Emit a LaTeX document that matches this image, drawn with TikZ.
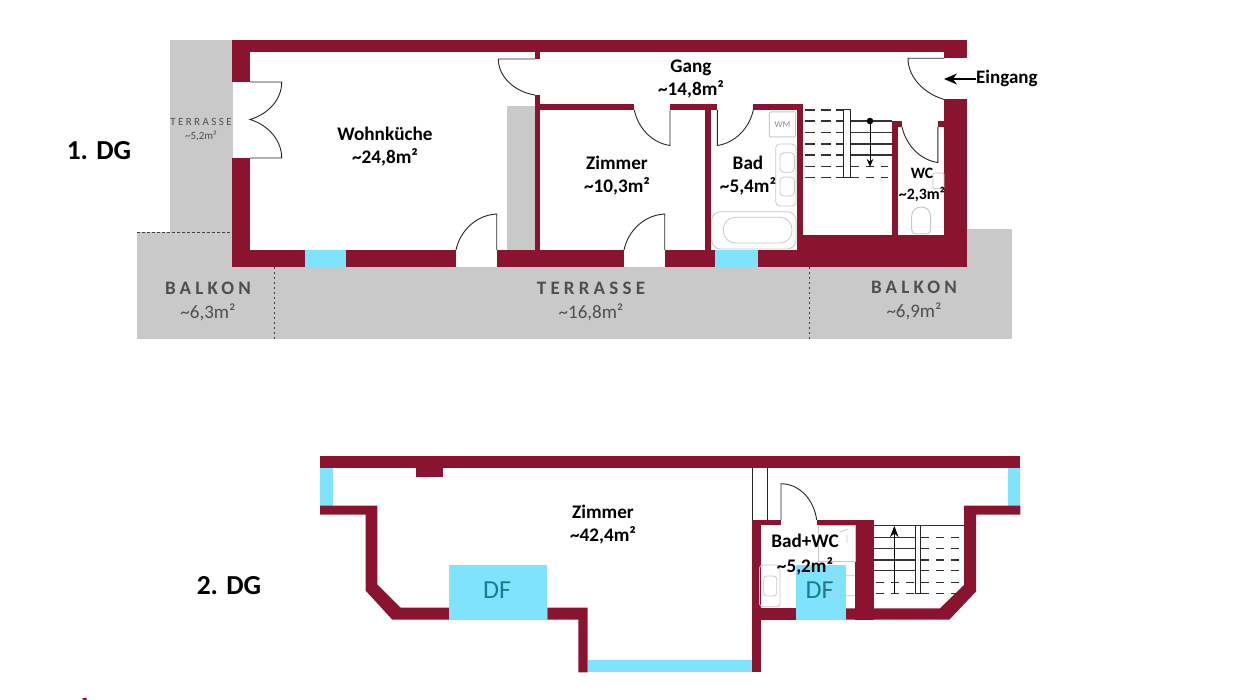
\documentclass[tikz,border=0pt]{standalone}
\usepackage{fontspec}
\usetikzlibrary{arrows.meta}
\setmainfont{Carlito}
\newfontfamily\sperrfont[LetterSpace=22]{Carlito}
\definecolor{wandrot}{HTML}{8A142F}
\definecolor{fenster}{HTML}{80E3FD}
\definecolor{terr}{HTML}{C9C9C9}
\definecolor{dftext}{HTML}{14808F}
\definecolor{terrtext}{HTML}{4F4F4F}
\newcommand{\qm}[1]{\textasciitilde#1m²}
\tikzset{
  wand/.style={fill=wandrot,draw=none},
  glas/.style={fill=fenster,draw=none},
  boden/.style={fill=terr,draw=none},
  tuer/.style={line width=0.9pt,draw=black!85},
  moebel/.style={line width=0.8pt,draw=black!22,rounded corners=4pt},
  raum/.style={font=\bfseries\fontsize{19.2}{23}\selectfont,align=center,inner sep=0pt},
  aussen/.style={font=\fontsize{19}{24}\selectfont,align=center,inner sep=0pt,text=terrtext},
  ebene/.style={font=\bfseries\fontsize{27.5}{30}\selectfont,inner sep=0pt},
  dflabel/.style={font=\fontsize{26}{28}\selectfont,inner sep=0pt,text=dftext},
  grenze/.style={line width=0.9pt,dash pattern=on 2.5pt off 2.5pt,draw=black!75},
  stufe/.style={line width=1.2pt,draw=black!80},
  halb/.style={line width=1.2pt,draw=black!80,dash pattern=on 10pt off 5.5pt},
  halbb/.style={line width=1.2pt,draw=black!80,dash pattern=on 7.5pt off 7.5pt}
}
\begin{document}
\begin{tikzpicture}[>=stealth,x=1pt,y=-1pt]
\useasboundingbox (0,0) rectangle (1236,700);
% 1. DG
\fill[boden] (170,40) rectangle (233,232);
\fill[boden] (137,232) rectangle (233,267);
\fill[boden] (137,267) rectangle (1011.5,339);
\fill[boden] (960,229) rectangle (1011.5,267);
\fill[boden] (507.3,106) rectangle (535,250);
\draw[grenze] (137,232)--(232,232);
\draw[grenze] (274,267)--(274,339);
\draw[grenze] (809.5,267)--(809.5,339);
\fill[wand] (232.3,40) rectangle (967,52);
\fill[wand] (232.3,40) rectangle (250,82);
\fill[wand] (232.3,158) rectangle (250,267);
\fill[wand] (232.3,250) rectangle (305,267);
\fill[wand] (346,250) rectangle (456,267);
\fill[wand] (497,250) rectangle (624,267);
\fill[wand] (665,250) rectangle (715.3,267);
\fill[wand] (758,250) rectangle (967,267);
\fill[wand] (803,235) rectangle (967,250);
\fill[glas] (305,250) rectangle (346,267);
\fill[glas] (715.3,250) rectangle (758,267);
\fill[wand] (534.5,52) rectangle (540,59);
\fill[wand] (534.5,95) rectangle (540,250);
\fill[wand] (540,104) rectangle (634.3,110);
\fill[wand] (670,104) rectangle (717.3,110);
\fill[wand] (753.3,104) rectangle (802.7,110);
\fill[wand] (705,110) rectangle (710.7,250);
\fill[wand] (797,104) rectangle (802.7,250);
\fill[wand] (944.3,40) rectangle (967,58.3);
\fill[wand] (944.3,99.5) rectangle (967,267);
\fill[wand] (892.3,121) rectangle (897.7,235);
\fill[wand] (892.3,121) rectangle (902,127);
\fill[wand] (937.7,121) rectangle (944.3,127);
% Tueren
\draw[tuer] (250,82)--(281.7,82) .. controls (281.7,100) and (268,114) .. (250,119.5) .. controls (268,125) and (281.7,140) .. (281.7,158)--(250,158);
\draw[tuer] (535,59)--(498.3,59) .. controls (498.3,77) and (515,92) .. (535,95);
\draw[tuer] (456,250) .. controls (460,231) and (476,215) .. (496.7,214)--(496.7,250);
\draw[tuer] (624,250) .. controls (628,231) and (644,215) .. (664.7,214)--(664.7,250);
\draw[tuer] (634.3,110) .. controls (638,128) and (652,143) .. (670,145.5)--(670,110);
\draw[tuer] (753.3,110) .. controls (749.5,128) and (735,143) .. (717.3,145.5)--(717.3,110);
\draw[tuer] (944.3,58.3)--(908,58.3) .. controls (908,78) and (925,94) .. (944.3,99.5);
\draw[tuer] (902,127) .. controls (906,145) and (920,160) .. (937.8,162.5)--(937.8,127);
% Bad und WC
\draw[moebel,rounded corners=1pt,line width=1pt] (769.3,112) rectangle (795.7,137);
\draw[moebel] (775.7,144) rectangle (796,206);
\draw[moebel] (780,152.7) rectangle (794.5,172.3);
\draw[moebel] (780,177) rectangle (794.5,196);
\draw[moebel,rounded corners=9pt] (711.7,211.7) rectangle (796,249);
\draw[moebel,rounded corners=12pt] (723.3,217.3) rectangle (792,243);
\node[font=\fontsize{9}{10}\selectfont,text=black!45,inner sep=0pt] (wm) at (782.5,124.5) {WM};
\draw[moebel,line width=1pt] (911.7,234) -- (911.7,220) .. controls (911.7,204) and (930.5,204) .. (930.5,220) -- (930.5,234) -- cycle;
\draw[moebel,rounded corners=1pt] (933,173) rectangle (944,188.5);
% Treppe
\foreach \y in {110,121,132.7,144,155,166.5,177.5}\draw[halb] (805,\y)--(843.3,\y);
\foreach \y in {166.5,177.5}\draw[halbb] (851,\y)--(888,\y);
\foreach \y in {121,132.7,144,155}\draw[stufe] (850,\y)--(892.3,\y);
\draw[line width=1pt,draw=black!85,fill=white] (843.5,110) rectangle (850,177.5);
\fill[black] (870,121) circle(3.3pt);
\draw[-{Stealth[length=8pt,width=6.5pt]},line width=1pt] (870,121)--(870,167);
% Beschriftung 1. DG
\node[ebene] (dg1) at (99,151) {1. DG};
\node[raum] (wohnkueche) at (385,147) {Wohnküche\\\qm{24,8}};
\node[raum] (gang) at (691,79) {Gang\\\qm{14,8}};
\node[raum] (zimmer1) at (617,176) {Zimmer\\\qm{10,3}};
\node[raum] (bad) at (748,176) {Bad\\\qm{5,4}};
\node[raum,font=\bfseries\fontsize{15.8}{21}\selectfont] (wc) at (922,184.5) {WC\\\qm{2,3}};
\node[raum,anchor=west,font=\bfseries\fontsize{19}{20}\selectfont] (eingang) at (976,78.5) {Eingang};
\coordinate (eingangtip) at (944,79);
\draw[-{Stealth[length=13pt,width=11pt]},line width=1.2pt] (eingang.west|-eingangtip)--(eingangtip);
\node[aussen] (balkonl) at (208,301) {{\bfseries\sperrfont BALKON}\\\qm{6,3}};
\node[aussen] (terrasse) at (591,301.5) {{\bfseries\sperrfont TERRASSE}\\\qm{16,8}};
\node[aussen] (balkonr) at (914,300.5) {{\bfseries\sperrfont BALKON}\\\qm{6,9}};
\node[aussen,font=\fontsize{11}{14}\selectfont] (terrklein) at (201,130) {{\sperrfont TERRASSE}\\\qm{5,2}};
% 2. DG
\fill[wand] (320,455.7) rectangle (1020.3,467.7);
\fill[wand] (415.7,467.7) rectangle (443,476.7);
\fill[glas] (320,467.7) rectangle (333,505.7);
\fill[glas] (1008.3,467.7) rectangle (1020.3,505.7);
\fill[wand] (320,505.7)--(377.3,505.7)--(377.3,584.5)--(400.7,607.7)--(449,607.7)--(449,619.7)--(392.3,619.7)--(365.7,590.7)--(365.7,514.5)--(320,514.5)--cycle;
\fill[wand] (547.3,607.7)--(587.7,607.7)--(587.7,672.3)--(578.3,672.3)--(578.3,619.7)--(547.3,619.7)--cycle;
\fill[glas] (587.7,660.3) rectangle (752,672.3);
\fill[wand] (752,520) rectangle (760.7,672.3);
\fill[wand] (752,520) rectangle (781,525);
\fill[wand] (816.7,520) rectangle (873.7,525);
\fill[wand] (855,520) rectangle (873.7,620);
\fill[wand] (760,608.3) rectangle (796,619.7);
\fill[wand] (846,608.3)--(940,608.3)--(964,585)--(964,505.7)--(1020.3,505.7)--(1020.3,514.5)--(976,514.5)--(976,591.5)--(949.3,619.7)--(846,619.7)--cycle;
\draw[tuer,line width=0.8pt] (752.3,467.7)--(752.3,520) (767,467.7)--(767,520);
\draw[tuer] (781,520)--(781,483.7) .. controls (800,484) and (814,500) .. (816.7,520);
% Bad+WC
\draw[moebel,rounded corners=3pt] (759.5,565) rectangle (780,606.7);
\draw[moebel,rounded corners=3pt] (763.7,576) rectangle (776.7,596);
\draw[moebel,rounded corners=0pt] (818.3,525) rectangle (855,561);
\draw[moebel,rounded corners=0pt] (840,532)--(848,529) (847,535)--(847,543);
\fill[glas] (795.7,565) rectangle (846,620);
\fill[glas] (448.7,565) rectangle (547.3,619.7);
\draw[moebel,rounded corners=0pt] (855,575.7)--(838,575.7) .. controls (822,575.7) and (822,595.7) .. (838,595.7)--(855,595.7);
% Treppe
\draw[stufe] (873.7,525.7)--(964,525.7);
\foreach \y in {537.3,548.7,560,570.7}{\draw[stufe] (873.7,\y)--(915,\y);\draw[halbb] (921,\y)--(960,\y);}
\foreach \y in {582.3,593.7}{\draw[halbb] (876,\y)--(915,\y);\draw[halbb] (921,\y)--(960,\y);}
\draw[line width=1pt,draw=black!85,fill=white] (915,525.7) rectangle (920.7,593.7);
\draw[-{Stealth[length=11pt,width=8.5pt]},line width=1pt] (894.3,593.7)--(894.3,526);
% Beschriftung 2. DG
\node[ebene] (dg2) at (229,586) {2. DG};
\node[raum] (zimmer2) at (603,525) {Zimmer\\\qm{42,4}};
\node[raum,font=\bfseries\fontsize{19.2}{25}\selectfont] (badwc) at (805,555) {Bad+WC\\\qm{5,2}};
\node[dflabel] (df1) at (497,590) {DF};
\node[dflabel] (df2) at (819.5,590) {DF};
\fill[wandrot] (82,698.5)--(86,697.5)--(87,700)--(84,700)--cycle;
\end{tikzpicture}
\end{document}
